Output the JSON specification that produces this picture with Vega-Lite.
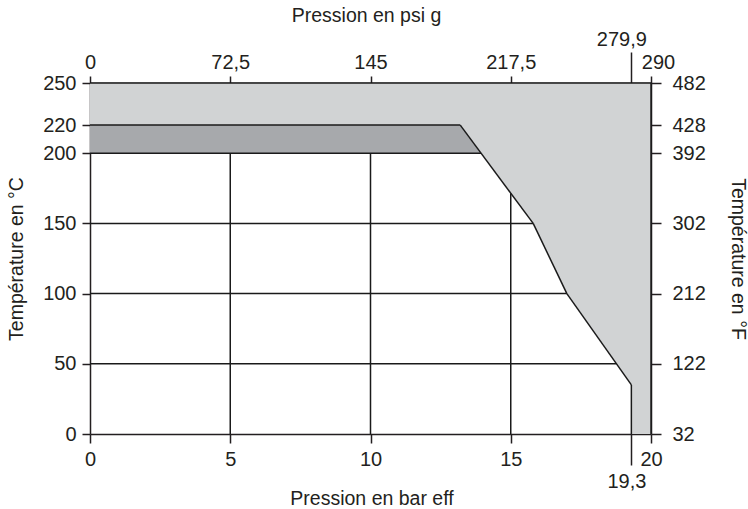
{
  "$schema": "https://vega.github.io/schema/vega-lite/v6.json",
  "autosize": {"type": "none"},
  "width": 561,
  "height": 351,
  "padding": {"left": 90, "top": 83, "right": 97, "bottom": 75},
  "background": "white",
  "config": {
    "view": {"stroke": null},
    "font": "Liberation Sans",
    "axis": {
      "labelFont": "Liberation Sans",
      "titleFont": "Liberation Sans",
      "labelFontSize": 20,
      "titleFontSize": 19.5,
      "titleFontWeight": "normal",
      "labelColor": "#231f20",
      "titleColor": "#231f20",
      "domainColor": "#231f20",
      "tickColor": "#231f20",
      "domainWidth": 1.5,
      "tickWidth": 1.5,
      "grid": false,
      "labelFlush": false,
      "labelOverlap": false,
      "labelBound": false,
      "zindex": 1
    }
  },
  "datasets": {
    "band": [
      {"zone": "light", "T": 220, "T2": 250, "Pa": 0, "Pb": 20}
    ],
    "fill": [
      {"zone": "light", "T": 0, "Pa": 19.3, "Pb": 20},
      {"zone": "light", "T": 35, "Pa": 19.3, "Pb": 20},
      {"zone": "light", "T": 100, "Pa": 17, "Pb": 20},
      {"zone": "light", "T": 150, "Pa": 15.8, "Pb": 20},
      {"zone": "light", "T": 220, "Pa": 13.2, "Pb": 20},
      {"zone": "dark", "T": 200, "Pa": 0, "Pb": 13.94},
      {"zone": "dark", "T": 220, "Pa": 0, "Pb": 13.2}
    ],
    "segments": [
      {"g": "grid", "xa": 0, "ya": 220, "xb": 13.2, "yb": 220},
      {"g": "grid", "xa": 0, "ya": 200, "xb": 13.94, "yb": 200},
      {"g": "grid", "xa": 0, "ya": 150, "xb": 15.8, "yb": 150},
      {"g": "grid", "xa": 0, "ya": 100, "xb": 17, "yb": 100},
      {"g": "grid", "xa": 0, "ya": 50, "xb": 18.77, "yb": 50},
      {"g": "grid", "xa": 5, "ya": 0, "xb": 5, "yb": 200},
      {"g": "grid", "xa": 10, "ya": 0, "xb": 10, "yb": 200},
      {"g": "grid", "xa": 15, "ya": 0, "xb": 15, "yb": 171.5},
      {"g": "grid", "xa": 0, "ya": 250, "xb": 20, "yb": 250},
      {"g": "grid", "xa": 20, "ya": 0, "xb": 20, "yb": 250},
      {"g": "edge", "xa": 13.2, "ya": 220, "xb": 15.8, "yb": 150},
      {"g": "edge", "xa": 15.8, "ya": 150, "xb": 17, "yb": 100},
      {"g": "edge", "xa": 17, "ya": 100, "xb": 19.3, "yb": 35},
      {"g": "edge", "xa": 19.3, "ya": 35, "xb": 19.3, "yb": 0}
    ]
  },
  "resolve": {"axis": {"x": "independent", "y": "independent"}},
  "layer": [
    {
      "data": {"name": "band"},
      "mark": {"type": "rect", "color": "#d1d3d4"},
      "encoding": {
        "y": {"field": "T", "type": "quantitative",
          "scale": {"domain": [0, 250], "nice": false, "zero": true},
          "axis": {"orient": "left", "values": [0, 50, 100, 150, 200, 220, 250],
            "tickSize": 8, "labelPadding": 6,
            "title": "Température en °C", "titleAngle": -90, "titleBaseline": "alphabetic",
            "titleAlign": "center", "titleX": -67.5, "titleY": 175.5}},
        "y2": {"field": "T2"},
        "x": {"field": "Pa", "type": "quantitative",
          "scale": {"domain": [0, 20], "nice": false, "zero": true},
          "axis": {"orient": "bottom", "values": [0, 5, 10, 15, 20],
            "tickSize": 9, "labelPadding": 6,
            "title": "Pression en bar eff", "titleBaseline": "alphabetic",
            "titleAlign": "center", "titleX": 281.5, "titleY": 70}},
        "x2": {"field": "Pb"}
      }
    },
    {
      "data": {"name": "fill"},
      "transform": [{"filter": "datum.zone == 'light'"}],
      "mark": {"type": "area", "orient": "horizontal", "color": "#d1d3d4"},
      "encoding": {
        "y": {"field": "T", "type": "quantitative",
          "scale": {"domain": [0, 250], "nice": false, "zero": true},
          "axis": {"orient": "right", "values": [0, 50, 100, 150, 200, 220, 250],
            "labelExpr": "format(datum.value * 1.8 + 32, 'd')",
            "tickSize": 10, "labelPadding": 11,
            "title": "Température en °F", "titleAngle": 90, "titleBaseline": "alphabetic",
            "titleAlign": "center", "titleX": 80, "titleY": 175.5}},
        "x": {"field": "Pa", "type": "quantitative",
          "scale": {"domain": [0, 20], "nice": false, "zero": true},
          "axis": {"orient": "top", "values": [0, 5, 10, 15, 20],
            "labelExpr": "datum.value == 5 ? '72,5' : datum.value == 10 ? '145' : datum.value == 15 ? '217,5' : datum.value == 20 ? '290' : '0'",
            "labelOffset": {"condition": {"test": "datum.value == 20", "value": 7}, "value": 0},
            "tickSize": 7, "labelPadding": 3.5,
            "title": "Pression en psi g", "titleBaseline": "alphabetic",
            "titleAlign": "center", "titleX": 276, "titleY": -62}},
        "x2": {"field": "Pb"}
      }
    },
    {
      "data": {"name": "fill"},
      "transform": [{"filter": "datum.zone == 'dark'"}],
      "mark": {"type": "area", "orient": "horizontal", "color": "#a7a9ac"},
      "encoding": {
        "y": {"field": "T", "type": "quantitative",
          "scale": {"domain": [0, 250], "nice": false, "zero": true}, "axis": null},
        "x": {"field": "Pa", "type": "quantitative",
          "scale": {"domain": [0, 20], "nice": false, "zero": true}, "axis": null},
        "x2": {"field": "Pb"}
      }
    },
    {
      "data": {"name": "segments"},
      "transform": [{"filter": "datum.g == 'grid'"}],
      "mark": {"type": "rule", "color": "#1a1a1a", "strokeWidth": 1.5},
      "encoding": {
        "x": {"field": "xa", "type": "quantitative",
          "scale": {"domain": [0, 20], "nice": false, "zero": true},
          "axis": {"orient": "bottom", "values": [19.3], "labelExpr": "'19,3'",
            "domain": false, "tickSize": 31, "labelPadding": 6.5, "labelOffset": -5, "title": null}},
        "x2": {"field": "xb"},
        "y": {"field": "ya", "type": "quantitative",
          "scale": {"domain": [0, 250], "nice": false, "zero": true}, "axis": null},
        "y2": {"field": "yb"}
      }
    },
    {
      "data": {"name": "segments"},
      "transform": [{"filter": "datum.g == 'edge'"}],
      "mark": {"type": "rule", "color": "#1a1a1a", "strokeWidth": 1.5},
      "encoding": {
        "x": {"field": "xa", "type": "quantitative",
          "scale": {"domain": [0, 20], "nice": false, "zero": true},
          "axis": {"orient": "top", "values": [19.3], "labelExpr": "'279,9'",
            "domain": false, "tickSize": 31, "labelPadding": 3, "labelOffset": -10, "title": null}},
        "x2": {"field": "xb"},
        "y": {"field": "ya", "type": "quantitative",
          "scale": {"domain": [0, 250], "nice": false, "zero": true}, "axis": null},
        "y2": {"field": "yb"}
      }
    }
  ]
}
